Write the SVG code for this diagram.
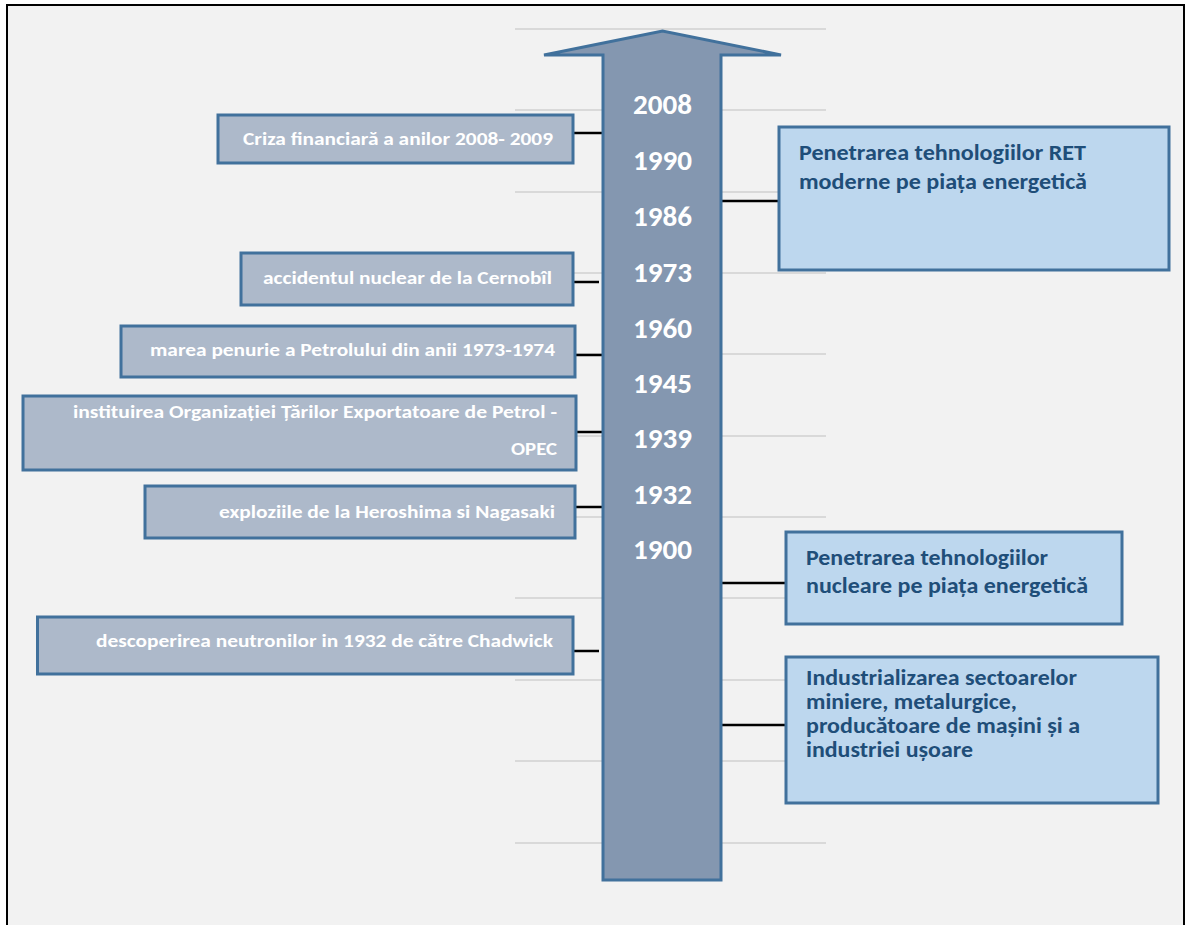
<svg xmlns="http://www.w3.org/2000/svg" width="1189" height="925" viewBox="0 0 1189 925">
<style>
.grid{stroke:#d9d9d9;stroke-width:2;fill:none}
.conn{stroke:#000;stroke-width:2.5;fill:none}
.lbox{fill:#adb9ca;stroke:#41719c;stroke-width:3}
.rbox{fill:#bdd7ee;stroke:#41719c;stroke-width:3}
.ltxt{font-family:Carlito,"Liberation Sans",Arial,sans-serif;font-weight:bold;font-size:19px;fill:#ffffff;text-anchor:end}
.rtxt{font-family:Carlito,"Liberation Sans",Arial,sans-serif;font-weight:bold;font-size:21.5px;fill:#1f4e79}
.year{font-family:Carlito,"Liberation Sans",Arial,sans-serif;font-weight:bold;font-size:28px;fill:#ffffff;text-anchor:middle}
</style>
<rect x="0" y="0" width="1189" height="925" fill="#ffffff"/>
<rect x="7" y="5" width="1177" height="940" fill="#f2f2f2" stroke="#000" stroke-width="2"/>
<g id="gridlines">
<line class="grid" x1="515" y1="29" x2="826" y2="29"/>
<line class="grid" x1="515" y1="110" x2="826" y2="110"/>
<line class="grid" x1="515" y1="192" x2="826" y2="192"/>
<line class="grid" x1="515" y1="273" x2="826" y2="273"/>
<line class="grid" x1="515" y1="354" x2="826" y2="354"/>
<line class="grid" x1="515" y1="436" x2="826" y2="436"/>
<line class="grid" x1="515" y1="517" x2="826" y2="517"/>
<line class="grid" x1="515" y1="598" x2="826" y2="598"/>
<line class="grid" x1="515" y1="680" x2="826" y2="680"/>
<line class="grid" x1="515" y1="761" x2="826" y2="761"/>
<line class="grid" x1="515" y1="843" x2="826" y2="843"/>
</g>
<g id="connectors">
<line class="conn" x1="573" y1="133" x2="604" y2="133"/>
<line class="conn" x1="571" y1="282" x2="599" y2="282"/>
<line class="conn" x1="573" y1="355" x2="604" y2="355"/>
<line class="conn" x1="574" y1="432" x2="603" y2="432"/>
<line class="conn" x1="573" y1="507" x2="604" y2="507"/>
<line class="conn" x1="571" y1="651" x2="599" y2="651"/>
<line class="conn" x1="721" y1="201" x2="781" y2="201"/>
<line class="conn" x1="721" y1="583" x2="788" y2="583"/>
<line class="conn" x1="721" y1="725" x2="788" y2="725"/>
</g>
<g id="timeline-arrow">
<path d="M603,880 L603,55 L544,55 L662.5,31 L781,55 L721,55 L721,880 Z" fill="#8497b0" stroke="#41719c" stroke-width="3" stroke-linejoin="miter"/>
<text class="year" x="662.5" y="114" textLength="59" lengthAdjust="spacingAndGlyphs">2008</text>
<text class="year" x="662.5" y="169.5" textLength="59" lengthAdjust="spacingAndGlyphs">1990</text>
<text class="year" x="662.5" y="226" textLength="59" lengthAdjust="spacingAndGlyphs">1986</text>
<text class="year" x="662.5" y="282" textLength="59" lengthAdjust="spacingAndGlyphs">1973</text>
<text class="year" x="662.5" y="337.5" textLength="59" lengthAdjust="spacingAndGlyphs">1960</text>
<text class="year" x="662.5" y="393" textLength="59" lengthAdjust="spacingAndGlyphs">1945</text>
<text class="year" x="662.5" y="448" textLength="59" lengthAdjust="spacingAndGlyphs">1939</text>
<text class="year" x="662.5" y="503.5" textLength="59" lengthAdjust="spacingAndGlyphs">1932</text>
<text class="year" x="662.5" y="559" textLength="59" lengthAdjust="spacingAndGlyphs">1900</text>
</g>
<g id="node-criza">
<rect class="lbox" x="218" y="115" width="355" height="48"/>
<text class="ltxt" x="553" y="145" textLength="310" lengthAdjust="spacingAndGlyphs">Criza financiară a anilor 2008- 2009</text>
</g>
<g id="node-cernobil">
<rect class="lbox" x="241" y="253" width="332" height="52"/>
<text class="ltxt" x="552" y="284" textLength="289" lengthAdjust="spacingAndGlyphs">accidentul nuclear de la Cernobîl</text>
</g>
<g id="node-penurie">
<rect class="lbox" x="121" y="326" width="454" height="51"/>
<text class="ltxt" x="555" y="356" textLength="405" lengthAdjust="spacingAndGlyphs">marea penurie a Petrolului din anii 1973-1974</text>
</g>
<g id="node-opec">
<rect class="lbox" x="23" y="396" width="553" height="74"/>
<text class="ltxt" x="557" y="418" textLength="484" lengthAdjust="spacingAndGlyphs">instituirea Organizației Țărilor Exportatoare de Petrol -</text>
<text class="ltxt" x="557" y="455" textLength="46" lengthAdjust="spacingAndGlyphs">OPEC</text>
</g>
<g id="node-hiroshima">
<rect class="lbox" x="145" y="486" width="430" height="52"/>
<text class="ltxt" x="555" y="518" textLength="336" lengthAdjust="spacingAndGlyphs">exploziile de la Heroshima si Nagasaki</text>
</g>
<g id="node-chadwick">
<rect class="lbox" x="37.5" y="617" width="535.5" height="57"/>
<text class="ltxt" x="553" y="647" textLength="457" lengthAdjust="spacingAndGlyphs">descoperirea neutronilor in 1932 de către Chadwick</text>
</g>
<g id="node-ret">
<rect class="rbox" x="779" y="127" width="390" height="143"/>
<text class="rtxt" x="799" y="160" textLength="287" lengthAdjust="spacingAndGlyphs">Penetrarea tehnologiilor RET</text>
<text class="rtxt" x="799" y="189" textLength="288" lengthAdjust="spacingAndGlyphs">moderne pe piața energetică</text>
</g>
<g id="node-nucleare">
<rect class="rbox" x="786" y="532" width="336" height="92"/>
<text class="rtxt" x="806" y="565" textLength="242" lengthAdjust="spacingAndGlyphs">Penetrarea tehnologiilor</text>
<text class="rtxt" x="806" y="593" textLength="282" lengthAdjust="spacingAndGlyphs">nucleare pe piața energetică</text>
</g>
<g id="node-industrializare">
<rect class="rbox" x="786" y="657" width="372" height="146"/>
<text class="rtxt" x="806" y="685" textLength="271" lengthAdjust="spacingAndGlyphs">Industrializarea sectoarelor</text>
<text class="rtxt" x="806" y="709" textLength="211" lengthAdjust="spacingAndGlyphs">miniere, metalurgice,</text>
<text class="rtxt" x="806" y="733" textLength="274" lengthAdjust="spacingAndGlyphs">producătoare de mașini și a</text>
<text class="rtxt" x="806" y="757" textLength="167" lengthAdjust="spacingAndGlyphs">industriei ușoare</text>
</g>
</svg>
